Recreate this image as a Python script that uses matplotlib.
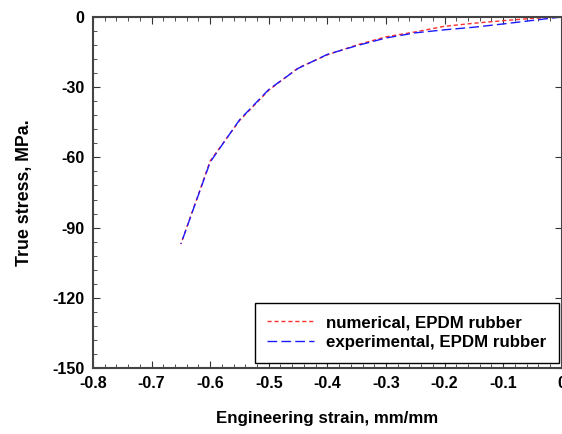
import numpy as np
import matplotlib.pyplot as plt
from matplotlib.ticker import MultipleLocator, FuncFormatter

plt.rcParams['font.family'] = ['Liberation Sans', 'DejaVu Sans']
plt.rcParams['axes.unicode_minus'] = False

# strain values (mm/mm) and true stress (MPa)
strain = [0, -0.05, -0.1, -0.15, -0.2, -0.25, -0.3, -0.35, -0.4, -0.45, -0.5, -0.55, -0.6, -0.65]
stress_exp = [0, -1.5, -3.0, -4.4, -5.5, -6.8, -9.0, -12.3, -16.0, -22.0, -31.0, -44.0, -62.0, -97.0]
stress_num = [0, -0.6, -1.6, -2.7, -4.0, -6.4, -8.5, -12.0, -16.2, -21.8, -31.3, -44.3, -61.5, -97.0]

fig = plt.figure(figsize=(5.62, 4.34), dpi=100)
ax = fig.add_axes([0.1655, 0.152, 0.834, 0.809])

ax.plot(strain, stress_num, color='#ff3030', lw=1.0, ls=(0, (3, 2)),
        label='numerical, EPDM rubber')
ax.plot(strain, stress_exp, color='#1a1aff', lw=1.0, ls=(0, (7, 3)),
        label='experimental, EPDM rubber')

ax.set_xlim(-0.8, 0)
ax.set_ylim(-150, 0)
ax.xaxis.set_major_locator(MultipleLocator(0.1))
ax.xaxis.set_minor_locator(MultipleLocator(0.02))
ax.yaxis.set_major_locator(MultipleLocator(30))
ax.yaxis.set_minor_locator(MultipleLocator(6))
ax.xaxis.set_major_formatter(FuncFormatter(lambda v, p: '0' if abs(v) < 1e-9 else '%.1f' % v))
ax.yaxis.set_major_formatter(FuncFormatter(lambda v, p: '%d' % round(v)))
ax.tick_params(which='both', direction='in', top=True, right=True, color='#333333')
ax.tick_params(which='major', length=5, labelsize=11.5, pad=6)
ax.tick_params(which='minor', length=3, right=False)
for lab in ax.get_xticklabels() + ax.get_yticklabels():
    lab.set_fontweight('bold')
for s in ax.spines.values():
    s.set_color('#444444')
    s.set_linewidth(1.5)

ax.set_xlabel('Engineering strain, mm/mm', fontsize=12.2, fontweight='bold', labelpad=14)
ax.set_ylabel('True stress, MPa.', fontsize=12.8, fontweight='bold', labelpad=14)

leg = ax.legend(loc='lower right', bbox_to_anchor=(0.9936, 0.014), borderaxespad=0,
                fancybox=False, edgecolor='black', framealpha=1, handlelength=2.75,
                borderpad=0.75, labelspacing=0.3, handletextpad=0.7,
                prop={'weight': 'bold', 'size': 12.2})
leg.get_frame().set_linewidth(1.0)

fig.savefig('out.png', dpi=100)
